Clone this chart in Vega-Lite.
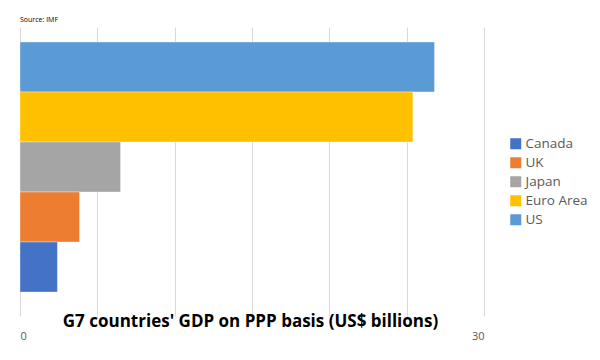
{
  "$schema": "https://vega.github.io/schema/vega-lite/v6.json",
  "width": 464,
  "height": 289,
  "autosize": {"type": "none"},
  "padding": {"left": 20, "top": 27, "right": 116, "bottom": 44},
  "background": "white",
  "view": {"stroke": null},
  "title": {"text": "Source: IMF", "anchor": "start", "frame": "group", "fontSize": 7, "font": "Open Sans", "fontWeight": "normal", "color": "#000000", "offset": 4},
  "data": {"values": [
    {"country": "US", "gdp": 26.8},
    {"country": "Euro Area", "gdp": 25.4},
    {"country": "Japan", "gdp": 6.5},
    {"country": "UK", "gdp": 3.85},
    {"country": "Canada", "gdp": 2.42}
  ]},
  "mark": {"type": "bar", "stroke": "white", "strokeOpacity": 0.35, "strokeWidth": 1},
  "encoding": {
    "y": {"field": "country", "type": "nominal", "sort": ["US", "Euro Area", "Japan", "UK", "Canada"],
      "scale": {"paddingInner": 0, "paddingOuter": 0.39, "align": 0.385}, "axis": null},
    "x": {"field": "gdp", "type": "quantitative", "scale": {"domain": [0, 30], "nice": false},
      "axis": {"values": [0, 5, 10, 15, 20, 25, 30], "labelExpr": "datum.value == 0 || datum.value == 30 ? datum.label : ''",
        "grid": true, "gridColor": "#D9D9D9", "domain": false, "ticks": false,
        "labelFont": "Open Sans", "labelFontSize": 11, "labelColor": "#595959", "labelPadding": 14,
        "title": "G7 countries' GDP on PPP basis (US$ billions)", "titleFont": "Open Sans", "titleFontSize": 17, "titleFontWeight": "bold", "titleColor": "#000000",
        "titleBaseline": "middle", "titleY": 5, "titleX": 230}},
    "color": {"field": "country", "type": "nominal",
      "scale": {"domain": ["Canada", "UK", "Japan", "Euro Area", "US"], "range": ["#4472C4", "#ED7D31", "#A5A5A5", "#FFC000", "#5B9BD5"]},
      "legend": {"title": null, "orient": "none", "legendX": 489, "legendY": 110, "symbolType": "square", "symbolSize": 121,
        "symbolStrokeWidth": 0, "labelFont": "Open Sans", "labelFontSize": 13.5, "labelColor": "#595959", "labelOffset": 3, "rowPadding": 4}}
  }
}
